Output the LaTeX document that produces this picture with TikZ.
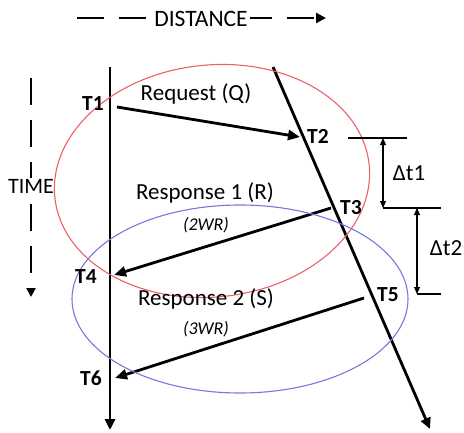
\documentclass[tikz,border=0pt]{standalone}
\usepackage{fontspec}
\setmainfont{Carlito}
\usetikzlibrary{arrows.meta}
\definecolor{ellred}{RGB}{236,96,104}
\definecolor{ellblue}{RGB}{120,120,216}
\tikzset{
  tlabel/.style={font=\bfseries\fontsize{21.5}{25}\selectfont, inner sep=0pt},
  mlabel/.style={font=\fontsize{23}{27}\selectfont, inner sep=0pt},
  slabel/.style={font=\itshape\fontsize{18}{22}\selectfont, inner sep=0pt},
  axislabel/.style={font=\fontsize{23.5}{27}\selectfont, fill=white, inner sep=2pt},
  axisline/.style={line width=2.8pt, dash pattern=on 27pt off 15pt, -{Triangle[length=10pt,width=10pt]}},
  timeline/.style={line width=2.8pt, -{Triangle[length=11pt,width=10pt]}},
  msg/.style={line width=2.8pt, -{Triangle[length=12pt,width=10pt]}},
  dimline/.style={line width=1.1pt},
  dimarrow/.style={line width=1.1pt, {Triangle[length=7pt,width=6pt]}-{Triangle[length=7pt,width=6pt]}},
  ell/.style={line width=1.1pt}
}
\begin{document}
\begin{tikzpicture}[x=1pt,y=-1pt]
\useasboundingbox (0,0) rectangle (464,432);
% axes
\coordinate (dA) at (77,18);
\coordinate (dB) at (326,18);
\draw[axisline] (dA) -- (dB);
\node[axislabel] (dist) at (201,19) {DISTANCE};
\coordinate (tA) at (31,78);
\coordinate (tB) at (31,297);
\draw[axisline, -{Triangle[length=9pt,width=9pt]}] (tA) -- (tB);
\node[axislabel, inner sep=1pt, font=\fontsize{22}{26}\selectfont] (time) at (31,186) {TIME};
% time lines
\coordinate (Ltop) at (110,67);
\coordinate (Lbot) at (110,430);
\coordinate (Rtop) at (273,67);
\coordinate (Rbot) at (430,429);
\draw[timeline] (Ltop) -- (Lbot);
\draw[timeline] (Rtop) -- (Rbot);
% messages
\coordinate (q1) at (117,107);
\coordinate (q2) at (300,137);
\coordinate (r1) at (331,208);
\coordinate (r2) at (114,275);
\coordinate (s1) at (364,298);
\coordinate (s2) at (115,378);
\draw[msg] (q1) -- (q2);
\draw[msg] (r1) -- (r2);
\draw[msg] (s1) -- (s2);
% ellipses
\draw[ell, ellred, rotate around={6:(212,181)}] (212,181) ellipse [x radius=158pt, y radius=116pt];
\draw[ell, ellblue] (240,299) ellipse [x radius=168pt, y radius=94pt];
% labels
\node[tlabel] (T1) at (93,104) {T1};
\node[tlabel] (T2) at (318,136) {T2};
\node[tlabel] (T3) at (351,208) {T3};
\node[tlabel] (T4) at (86,277) {T4};
\node[tlabel] (T5) at (388,295) {T5};
\node[tlabel] (T6) at (91,378) {T6};
\node[mlabel] (req) at (196,94) {Request (Q)};
\node[mlabel] (resp1) at (205,193) {Response 1 (R)};
\node[slabel] (wr2) at (206,225) {(2WR)};
\node[mlabel] (resp2) at (206,299) {Response 2 (S)};
\node[slabel] (wr3) at (206,329) {(3WR)};
% delta t dimensions
\coordinate (h1a) at (348,138);
\coordinate (h1b) at (407,138);
\coordinate (h2a) at (383,208);
\coordinate (h2b) at (441,208);
\coordinate (h3a) at (417,294);
\coordinate (h3b) at (441,294);
\draw[dimline] (h1a) -- (h1b);
\draw[dimline] (h2a) -- (h2b);
\draw[dimline] (h3a) -- (h3b);
\coordinate (d1a) at (383,138);
\coordinate (d1b) at (383,208);
\coordinate (d2a) at (417,208);
\coordinate (d2b) at (417,294);
\draw[dimarrow] (d1a) -- (d1b);
\draw[dimarrow] (d2a) -- (d2b);
\node[mlabel] (dt1) at (409,173) {Δt1};
\node[mlabel] (dt2) at (446,248) {Δt2};
\end{tikzpicture}
\end{document}
